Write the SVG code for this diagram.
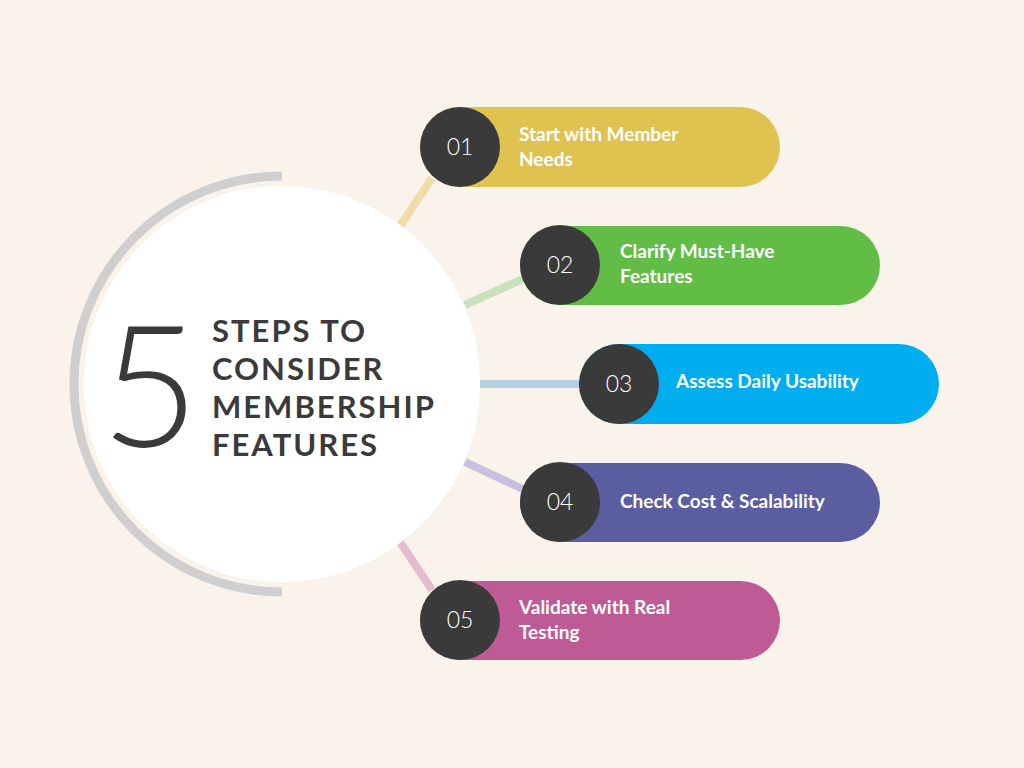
<svg xmlns="http://www.w3.org/2000/svg" width="1024" height="768" viewBox="0 0 1024 768">
<style>
.num{font-family:"Lato","Liberation Sans",sans-serif;font-weight:300;font-size:23px;fill:#fff;text-anchor:middle}
.lbl{font-family:"Lato","Liberation Sans",sans-serif;font-weight:700;font-size:19px;fill:#fff}
.ttl{font-family:"Lato","Liberation Sans",sans-serif;font-weight:700;font-size:31px;fill:#3a3a3a;letter-spacing:2px}
.dot{fill:#3a3a3a}
.ln{stroke-width:8;fill:none}
</style>
<rect width="1024" height="768" fill="#f9f3ec"/>
<g id="connectors">
<line class="ln" x1="400" y1="226" x2="432" y2="178" stroke="#efdca6"/>
<line class="ln" x1="465" y1="305" x2="525" y2="278" stroke="#c8e2bc"/>
<line class="ln" x1="480" y1="384" x2="582" y2="384" stroke="#b8cfe2"/>
<line class="ln" x1="465" y1="462" x2="525" y2="490" stroke="#c8c0de"/>
<line class="ln" x1="400" y1="542" x2="432" y2="590" stroke="#e4bcd0"/>
</g>
<g id="hub">
<path d="M282 176 A208 208 0 0 0 282 592" fill="none" stroke="#cfcfcf" stroke-width="9"/>
<circle cx="282" cy="384" r="198" fill="#fff"/>
<text x="150" y="447" font-family="Lato,'Liberation Sans',sans-serif" font-weight="300" font-size="170" fill="#3a3a3a" text-anchor="middle">5</text>
<text class="ttl" x="212" y="342">STEPS TO</text>
<text class="ttl" x="212" y="380">CONSIDER</text>
<text class="ttl" x="212" y="418">MEMBERSHIP</text>
<text class="ttl" x="212" y="456">FEATURES</text>
</g>
<g id="step1"><rect x="420" y="107" width="360" height="80" rx="40" fill="#dfc24f"/><circle class="dot" cx="460" cy="147" r="40"/><text class="num" x="460" y="155">01</text><text class="lbl" x="519" y="141">Start with Member</text><text class="lbl" x="519" y="166">Needs</text></g>
<g id="step2"><rect x="520" y="226" width="360" height="79" rx="39.5" fill="#62bd47"/><circle class="dot" cx="560" cy="265" r="40"/><text class="num" x="560" y="273">02</text><text class="lbl" x="620" y="258">Clarify Must-Have</text><text class="lbl" x="620" y="283">Features</text></g>
<g id="step3"><rect x="579" y="344" width="360" height="80" rx="40" fill="#00aeef"/><circle class="dot" cx="619" cy="384" r="40"/><text class="num" x="619" y="392">03</text><text class="lbl" x="676" y="388">Assess Daily Usability</text></g>
<g id="step4"><rect x="520" y="463" width="360" height="79" rx="39.5" fill="#5a5ea0"/><circle class="dot" cx="560" cy="502" r="40"/><text class="num" x="560" y="510">04</text><text class="lbl" x="620" y="508">Check Cost &amp; Scalability</text></g>
<g id="step5"><rect x="420" y="581" width="360" height="79" rx="39.5" fill="#be5a94"/><circle class="dot" cx="460" cy="620" r="40"/><text class="num" x="460" y="628">05</text><text class="lbl" x="519" y="614">Validate with Real</text><text class="lbl" x="519" y="639">Testing</text></g>
</svg>
